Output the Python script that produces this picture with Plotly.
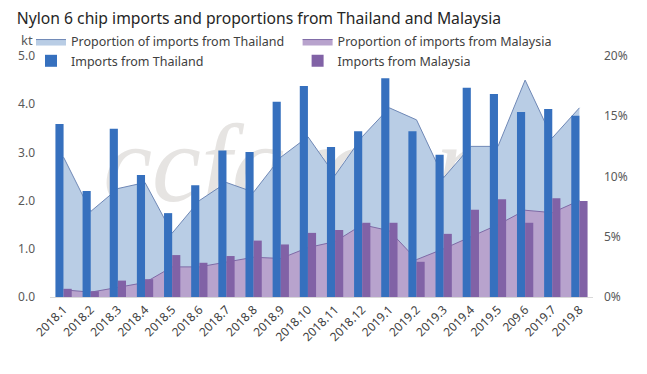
import plotly.graph_objects as go

months = ["2018.1", "2018.2", "2018.3", "2018.4", "2018.5", "2018.6", "2018.7", "2018.8",
          "2018.9", "2018.10", "2018.11", "2018.12", "2019.1", "2019.2", "2019.3", "2019.4",
          "2019.5", "209.6", "2019.7", "2019.8"]

imports_thailand = [3.59, 2.20, 3.49, 2.53, 1.74, 2.32, 3.04, 3.01, 4.05, 4.38,
                    3.11, 3.44, 4.54, 3.44, 2.95, 4.34, 4.21, 3.84, 3.90, 3.76]
imports_malaysia = [0.17, 0.12, 0.34, 0.37, 0.87, 0.71, 0.85, 1.17, 1.09, 1.33,
                    1.39, 1.54, 1.54, 0.73, 1.31, 1.81, 2.03, 1.54, 2.05, 1.99]
share_thailand = [11.6, 7.1, 9.0, 9.5, 5.3, 8.0, 9.5, 8.7, 11.6, 13.3,
                  10.1, 13.3, 15.7, 14.7, 9.9, 12.5, 12.5, 18.0, 13.2, 15.7]
share_malaysia = [0.6, 0.4, 0.8, 1.2, 2.5, 2.5, 2.9, 3.3, 3.2, 4.1,
                  4.6, 6.0, 5.5, 3.1, 4.0, 5.0, 6.0, 7.2, 7.0, 8.0]

left_ticks = [0, 1, 2, 3, 4, 5]
right_ticks = [0, 5, 10, 15, 20]

FONT = "Noto Sans"
TXT = "#595959"
LEG = dict(family=FONT, size=12.5, color="#404040")

fig = go.Figure()
fig.add_trace(go.Scatter(
    x=months, y=share_thailand, name="Proportion of imports from Thailand",
    mode="lines", fill="tozeroy", fillcolor="#B9CDE5",
    line=dict(color="#6F88B6", width=1), yaxis="y", hoverinfo="skip", legend="legend"))
fig.add_trace(go.Scatter(
    x=months, y=share_malaysia, name="Proportion of imports from Malaysia",
    mode="lines", fill="tozeroy", fillcolor="#B8A3CD",
    line=dict(color="#7E6AA6", width=1), yaxis="y", hoverinfo="skip", legend="legend2"))
fig.add_trace(go.Bar(
    x=months, y=imports_thailand, name="Imports from Thailand",
    marker=dict(color="#3670BE", line=dict(width=0)), yaxis="y2", legend="legend"))
fig.add_trace(go.Bar(
    x=months, y=imports_malaysia, name="Imports from Malaysia",
    marker=dict(color="#8162A6", line=dict(width=0)), yaxis="y2", legend="legend2"))

legend_common = dict(orientation="v", yanchor="middle", y=1.019, itemwidth=30,
                     font=LEG, bgcolor="rgba(0,0,0,0)", tracegroupgap=0,
                     traceorder="normal", xanchor="left")

fig.update_layout(
    width=647, height=374,
    margin=dict(l=50, r=54, t=56, b=77, autoexpand=False),
    paper_bgcolor="white", plot_bgcolor="white",
    barmode="group", bargap=0.4, bargroupgap=0,
    font=dict(family=FONT, color=TXT, size=12),
    title=dict(text="Nylon 6 chip imports and proportions from Thailand and Malaysia",
               x=0.026, xanchor="left", xref="container", y=0.950, yanchor="middle",
               yref="container",
               font=dict(family=FONT, size=15.7, color="#262626")),
    showlegend=True,
    legend=dict(x=-0.035, **legend_common),
    legend2=dict(x=0.456, **legend_common),
    xaxis=dict(type="category", tickangle=-45, showgrid=False, showline=True,
               linecolor="#D9D9D9", linewidth=1, ticks="",
               tickfont=dict(family=FONT, size=12, color="#404040")),
    yaxis=dict(side="right", range=[0, 20], tickvals=right_ticks,
               ticktext=[f"{v}%" for v in right_ticks], showgrid=False,
               zeroline=False, showline=False, ticklabelstandoff=10,
               tickfont=dict(family=FONT, size=12, color=TXT)),
    yaxis2=dict(side="left", overlaying="y", range=[0, 5], tickvals=left_ticks,
                ticktext=[f"{v:.1f}" for v in left_ticks], showgrid=False,
                zeroline=False, showline=False, ticklabelstandoff=14,
                tickfont=dict(family=FONT, size=12, color=TXT)),
    annotations=[dict(text="kt", xref="paper", yref="paper", x=-0.042, y=1.066,
                      xanchor="center", yanchor="middle", showarrow=False,
                      font=dict(family=FONT, size=13, color=TXT))],
    shapes=[dict(type="rect", xref="paper", yref="paper", x0=0.087, x1=0.9, y0=0.5, y1=0.7,
                 layer="below", line=dict(width=0), fillcolor="rgba(0,0,0,0)",
                 label=dict(text="ccfgroup", textposition="middle left",
                            font=dict(family="Liberation Serif", size=110, color="#E6E4E2",
                                      style="italic")))],
)

fig.write_html("out.html", config={"displayModeBar": False},
               post_script="document.body.style.margin='0';document.body.style.overflow='hidden';")
